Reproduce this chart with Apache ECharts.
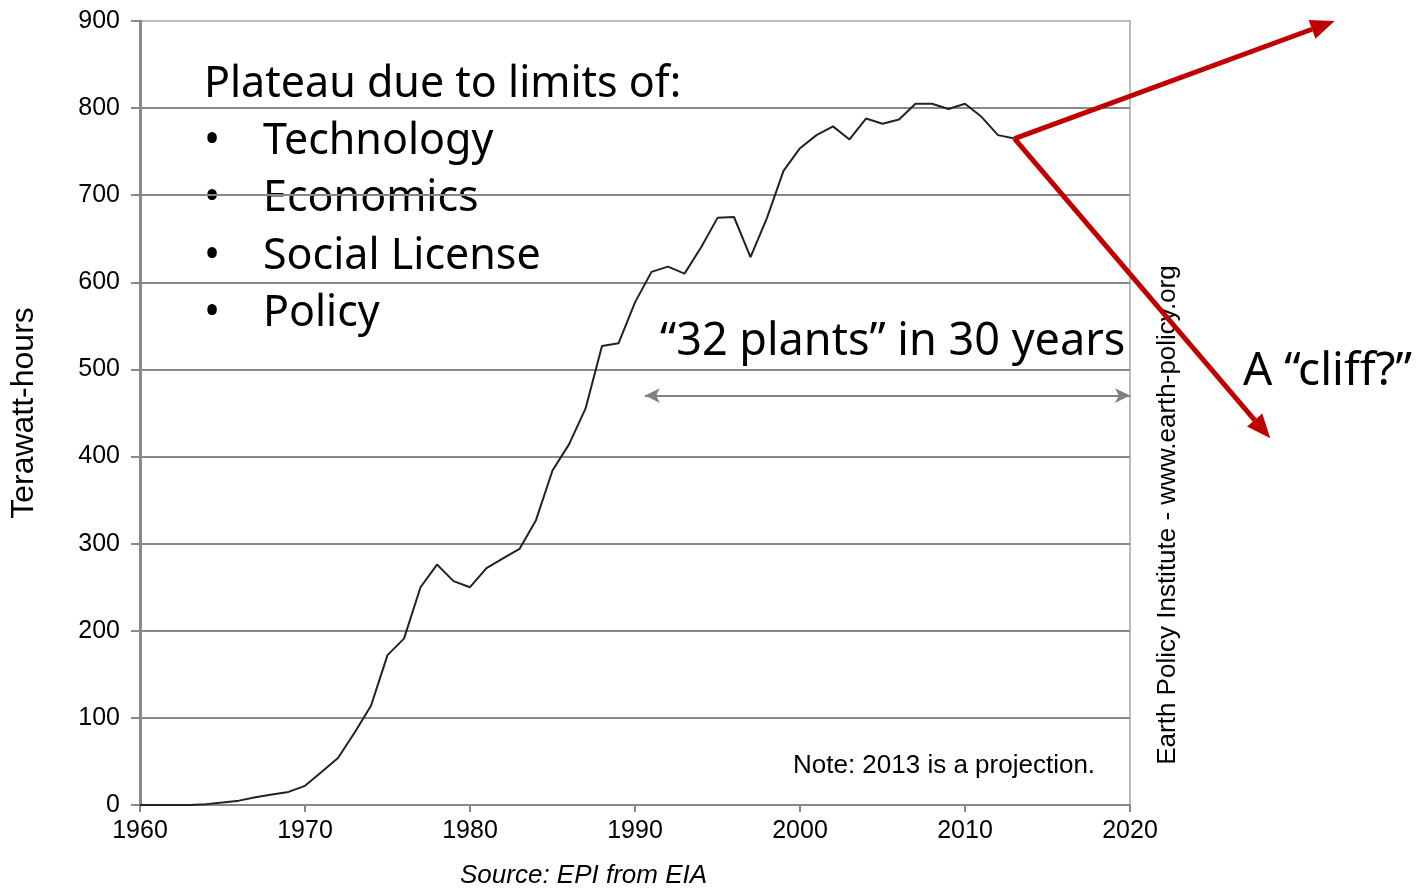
<!DOCTYPE html>
<html>
<head>
<meta charset="utf-8">
<script src="https://cdn.jsdelivr.net/npm/echarts@6/dist/echarts.min.js"></script>
<style>
  html, body { margin: 0; padding: 0; background: #fff; }
  #chart { width: 1420px; height: 892px; }
</style>
</head>
<body>
<div id="chart"></div>
<script>
// US nuclear generation
const years = [1960,1961,1962,1963,1964,1965,1966,1967,1968,1969,
  1970,1971,1972,1973,1974,1975,1976,1977,1978,1979,
  1980,1981,1982,1983,1984,1985,1986,1987,1988,1989,
  1990,1991,1992,1993,1994,1995,1996,1997,1998,1999,
  2000,2001,2002,2003,2004,2005,2006,2007,2008,2009,
  2010,2011,2012,2013]
const terawattHours = [0,0,0,0,1,3,5,9,12,15,
  22,38,54,83,114,172,191,250,276,257,
  250,272,283,294,327,384,414,455,527,530,
  577,612,618,610,640,674,675,629,674,728,
  754,769,779,764,788,782,787,805,805,799,
  805,790,769,765]
const xTicks = [1960, 2020, 10]   // min, max, interval
const yTicks = [0, 900, 100]

// annotation anchors in data units
const spanArrow = [[1990.6, 470], [2020, 470]]
const upArrow = [[2013, 765], [2032.4, 900]]
const downArrow = [[2013, 765], [2028.5, 421]]

const bulletItems = ['Technology', 'Economics', 'Social License', 'Policy']

let chart = echarts.init(document.getElementById('chart'))

let seriesData = years.map((y, i) => [y, terawattHours[i]])

const slideFont = '"Noto Sans", "Open Sans", sans-serif'
const chartFont = '"Liberation Sans", Arial, sans-serif'

let textEls = [
  {
    type: 'text', left: 204, top: 63,
    style: { text: 'Plateau due to limits of:', font: '43px ' + slideFont, fill: '#000' }
  },
  {
    type: 'text', left: 660, top: 320,
    style: { text: '\u201C32 plants\u201D in 30 years', font: '45px ' + slideFont, fill: '#000' }
  },
  {
    type: 'text', left: 1243, top: 349,
    style: { text: 'A \u201Ccliff?\u201D', font: '46px ' + slideFont, fill: '#000' }
  },
  {
    type: 'text', left: 793, top: 753,
    style: { text: 'Note: 2013 is a projection.', font: '26px ' + chartFont, fill: '#000' }
  },
  {
    type: 'text', left: 460, top: 863,
    style: { text: 'Source: EPI from EIA', font: 'italic 26px ' + chartFont, fill: '#000' }
  },
  {
    type: 'text', x: 1168, y: 515, rotation: Math.PI / 2,
    style: {
      text: 'Earth Policy Institute - www.earth-policy.org', font: '26px ' + chartFont,
      fill: '#000', align: 'center', verticalAlign: 'middle'
    }
  }
]
bulletItems.forEach((t, i) => {
  textEls.push({
    type: 'text', left: 204, top: 120 + i * 57.5,
    style: { text: '\u2022', font: '43px ' + slideFont, fill: '#000' }
  })
  textEls.push({
    type: 'text', left: 263, top: 120 + i * 57.5,
    style: { text: t, font: '43px ' + slideFont, fill: '#000' }
  })
})

let option = {
  animation: false,
  grid: {
    left: 140, right: 290, top: 21, bottom: 87,
    show: true, borderColor: '#bbb', borderWidth: 2
  },
  xAxis: {
    type: 'value',
    min: xTicks[0], max: xTicks[1], interval: xTicks[2],
    axisLine: { lineStyle: { color: '#888', width: 2 } },
    axisTick: { length: 7, lineStyle: { color: '#888', width: 2 } },
    axisLabel: { color: '#000', fontSize: 25, fontFamily: chartFont, margin: 14, formatter: v => String(v) },
    splitLine: { show: false }
  },
  yAxis: {
    type: 'value',
    min: yTicks[0], max: yTicks[1], interval: yTicks[2],
    name: 'Terawatt-hours',
    nameLocation: 'middle',
    nameGap: 100,
    nameTextStyle: { color: '#000', fontSize: 32, fontFamily: chartFont },
    axisLine: { show: true, lineStyle: { color: '#888', width: 3 } },
    axisTick: { show: true, length: 9, lineStyle: { color: '#888', width: 2 } },
    axisLabel: { color: '#000', fontSize: 25, fontFamily: chartFont, margin: 20 },
    splitLine: { show: true, showMaxLine: false, lineStyle: { color: '#888', width: 2 } }
  },
  series: [
    {
      type: 'line',
      data: seriesData,
      showSymbol: false,
      symbol: 'none',
      lineStyle: { color: '#222', width: 2 },
      z: 3,
      markLine: {
        silent: true,
        symbol: ['arrow', 'arrow'],
        symbolSize: [11, 15],
        label: { show: false },
        lineStyle: { color: '#808080', width: 2, type: 'solid' },
        data: [[{ coord: spanArrow[0] }, { coord: spanArrow[1] }]]
      }
    }
  ],
  graphic: textEls
}
chart.setOption(option)

// red arrows, placed through the grid's own scales
function arrowEls(pair) {
  let p0 = chart.convertToPixel({ gridIndex: 0 }, pair[0])
  let p1 = chart.convertToPixel({ gridIndex: 0 }, pair[1])
  let dx = p1[0] - p0[0], dy = p1[1] - p0[1]
  let len = Math.sqrt(dx * dx + dy * dy)
  let ux = dx / len, uy = dy / len
  let headLen = 24, headW = 10
  let bx = p1[0] - ux * headLen, by = p1[1] - uy * headLen
  return [
    {
      type: 'line', z: 10,
      shape: { x1: p0[0], y1: p0[1], x2: bx, y2: by },
      style: { stroke: '#c00000', lineWidth: 5 }
    },
    {
      type: 'polygon', z: 10,
      shape: { points: [[p1[0], p1[1]], [bx - uy * headW, by + ux * headW], [bx + uy * headW, by - ux * headW]] },
      style: { fill: '#c00000' }
    }
  ]
}
chart.setOption({ graphic: textEls.concat(arrowEls(upArrow), arrowEls(downArrow)) })
</script>
</body>
</html>
